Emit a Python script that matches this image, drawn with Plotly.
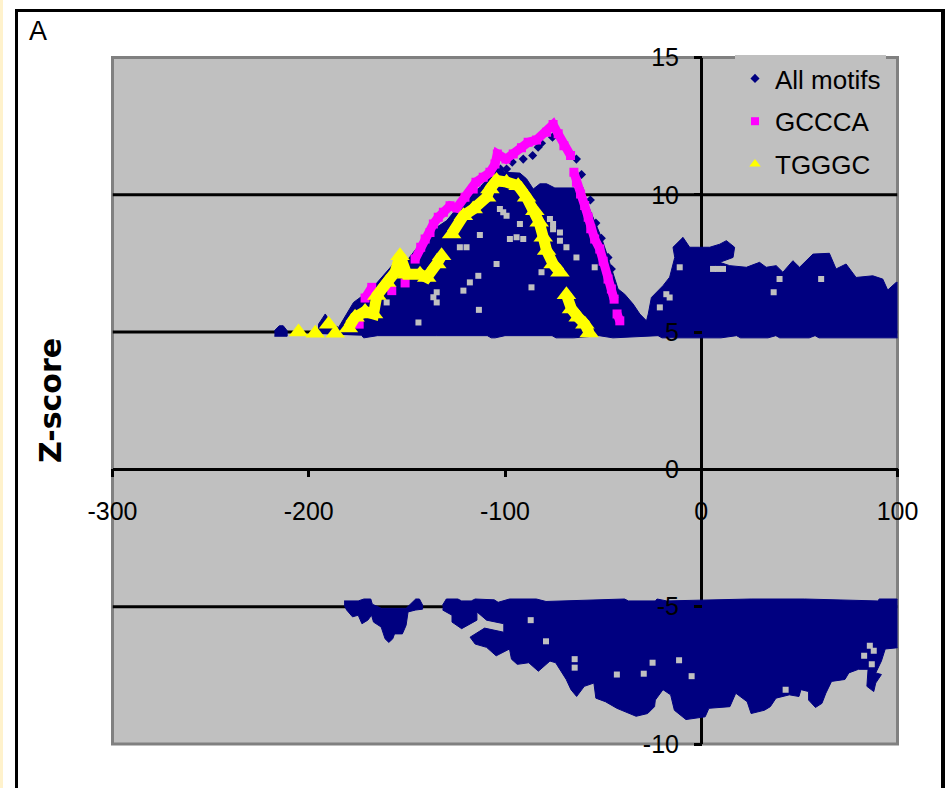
import plotly.graph_objects as go

# All motifs, upper lobe: outline (x position, Z-score)
upper_x = [-195,-195,-191.6,-188.2,-184.8,-180.6,-177.2,-173.8,-168.7,-163.6,-156.9,-150,-143.3,-139.9,-129.7,-121.2,-112.8,-106,-102.6,-100,-92.4,-89,-85.6,-82.2,-78.8,-74.6,-65,-59.4,-56.8,-54.3,-50.9,-47.5,-45,-42.4,-39,-34.7,-31.3,-27.9,-27,-25.4,-19.5,-16.1,-13.5,-14.4,-9.3,-5.9,-0.9,4.3,9.4,12.8,17,16.2,9.4,14.5,23,29.7,33.1,38.2,41.6,46.7,50.1,56.9,65.3,68.7,73.8,78.9,87.4,92.5,95,99.3,101.5,
           101.5,60,58,55,40,38,34,20,18,10,-20,-22,-45,-52,-65,-74,-76,-100,-105,-107,-109,-135,-165,-172,-173]
upper_y = [4.93,5.29,5.66,5.29,5.17,5.66,6.08,6.26,6.51,6.93,7.48,7.6,8.21,8.57,9.06,9.79,10.27,10.82,11.0,10.82,10.79,10.58,10.21,10.4,10.4,10.25,10.25,9.91,9.48,9.0,8.45,7.72,7.11,6.57,6.38,6.02,5.66,5.41,5.66,6.26,6.69,7.0,7.72,8.09,8.45,8.09,8.09,8.09,8.2,8.33,8.09,7.72,7.54,7.42,7.36,7.54,7.36,7.42,7.18,7.6,7.36,7.84,7.87,7.3,7.48,6.99,7.05,6.93,6.53,6.81,6.81,
           4.79,4.79,4.87,4.79,4.79,4.87,4.79,4.79,4.87,4.79,4.79,4.87,4.79,4.87,4.79,4.79,4.87,4.87,4.79,4.79,4.87,4.87,4.87,4.79,4.87]
spot_x = [-217.5,-215,-213,-211,-211,-217.5]
spot_y = [5.05,5.23,5.23,5.05,4.85,4.85]

# All motifs, lower lobe
lower_x = [-131.8,-129.9,-124,-122.1,-117.2,-115.2,-105.5,-103.5,-97.7,-84,-79.1,-68.4,-39.1,-37.1,-23.4,-22.5,-17.6,25.4,52.7,89.8,90.8,99.6,102,
           102,93.75,91.8,88.9,91.8,88.9,87.9,84.4,85,80.1,75.2,73.2,66.4,63.5,61.5,58.2,54.7,54.7,50.8,49.8,44.9,38.1,35.2,32.2,25.4,23.4,17.6,14.6,3.9,2,-7.8,-13.7,-15.6,-19.5,-23.4,-23.8,-27.3,-33.2,-43,-48.8,-53.7,-54.7,-59.6,-63.5,-66.4,-68.8,-74.2,-77.1,-83,-87.9,-93.75,-96.7,-97.7,-104.5,-109.4,-115.2,-117.8,-110.4,-100.6,-100.6,-109.4,-114.3,-114.3,-122.1,-127,-127,-131.8]
lower_y = [-4.94,-4.72,-4.72,-4.79,-4.79,-4.72,-4.75,-4.84,-4.72,-4.72,-4.81,-4.79,-4.72,-4.79,-4.79,-4.72,-4.79,-4.72,-4.72,-4.79,-4.72,-4.72,-4.79,
           -6.48,-6.54,-6.98,-7.41,-7.47,-7.78,-8.09,-7.9,-7.28,-7.28,-7.41,-7.65,-7.72,-8.15,-8.52,-8.67,-8.4,-8.09,-8.02,-8.27,-8.21,-8.33,-8.64,-8.77,-8.89,-8.46,-8.15,-8.64,-8.7,-9.01,-9.11,-8.77,-8.21,-8.02,-8.4,-8.64,-8.89,-8.99,-8.7,-8.46,-8.33,-7.78,-7.9,-8.27,-8.02,-7.65,-7.04,-6.98,-7.35,-7.04,-7.1,-6.91,-6.54,-6.79,-6.48,-6.36,-6.11,-5.78,-5.93,-5.62,-5.49,-5.19,-5.49,-5.8,-5.56,-5.31,-5.12]
left_x = [-182,-174.8,-171.9,-168.4,-167.6,-163,-150.4,-145.5,-143.6,-142,-142,-145.5,-149.4,-150.4,-152.3,-156.3,-157.2,-159.2,-161.1,-163.1,-167,-168,-169.9,-172.9,-174.8,-177.7,-180.7,-182]
left_y = [-4.79,-4.79,-4.72,-4.72,-4.91,-5.06,-5.06,-4.72,-4.72,-4.94,-5.09,-5.12,-5.19,-5.68,-5.99,-5.99,-6.17,-6.3,-6.17,-5.74,-5.56,-5.31,-5.49,-5.62,-5.31,-5.37,-5.12,-4.94]

# Separate All motifs points above the main mass
dots_x = [-81.4,-75.8,-83.1,-90.7,-85.9,-96.3,-102.3,-99.2,-63.6,-61,-62.2,-56.5,-53.7,-50.9,-47.5,-45.8]
dots_y = [11.88,12.1,11.73,11.3,11.43,11.19,10.94,10.94,11.3,10.74,10.25,9.81,8.97,8.42,7.72,7.3]

# Empty spots inside the All motifs mass
gaps_x = [-134.8,-136.5,-134.8,-119.6,-123,-100.9,-99.2,-102.6,-75.5,-75.5,-72,-72,-77.1,-94.1,-90.7,-97.5,-112.8,-92.4,-104.3,-81.4,-117.9,-121.2,-113.6,-160.3,-113.3,-144.1,-86.5,-54.3,-63.6,-68.7,8.5,6,11.1,-10.97,-16.1,-21.1,-17.8,39.9,61.1,36.9,
          85.9,87.9,83,86.9,-43,-64.5,-64.5,-24.8,-29.3,-4.9,-86.9,43,-79.1,-11.3]
gaps_y = [6.45,6.27,6.08,8.09,8.09,9.36,9.24,9.48,8.94,8.75,8.63,8.33,9.12,8.45,8.39,8.39,8.54,8.94,7.48,7.18,6.81,6.51,7.05,6.08,5.81,5.35,6.63,7.36,7.72,8.09,7.3,7.3,7.3,7.36,6.26,5.9,6.38,6.93,6.93,6.45,
          -6.42,-6.6,-6.79,-7.1,-7.47,-6.91,-7.22,-7.04,-7.44,-7.53,-5.49,-8.02,-6.26,-6.95]

# None marks a break in the run of points
gccca_x = [-174.3,None,-171.3,-167.9,None,-157.7,None,-150.9,None,-145.8,-142.95,-140.7,-138.2,-136.5,-134,-131.4,-128,-124.6,-120.4,-116.2,-114.8,-111.1,-107.7,-105.1,-103.9,-99.5,-95.8,-91.6,-88.2,-83.9,-78.8,-75.5,-72.9,-70,-66.6,None,-64.9,-63.6,-61.5,-59.4,-57.6,-56.3,-54.3,-51.7,-50,-47.5,-45.8,-44.4,None,-42.9,-41.5]
gccca_y = [5.29,None,6.24,6.63,None,6.51,None,6.79,None,7.66,8.09,8.39,8.63,8.94,9.18,9.36,9.6,9.52,9.91,10.21,10.46,10.64,10.82,11.12,11.49,11.3,11.49,11.71,11.91,12,12.28,12.56,12.22,11.79,11.43,None,10.82,10.46,10.03,9.61,9.18,8.76,8.39,8.03,7.58,6.93,6.57,6.2,None,5.66,5.41]

tgggc_x = [-205.2,None,-196.7,None,-189.9,None,-186.5,None,-179.8,-176.4,-171.3,-167,-165.3,-160.3,-156,-153.5,-150.1,-143.3,-139.9,-134.8,-132.3,None,-127.2,-121.2,-116.2,-109.4,-107.7,-104.3,-99.2,-93.3,-89,-84.8,-82.6,-80.5,-78.8,-75.5,-72,None,-68.7,-66.1,-62.7,-59.3,-57.1]
tgggc_y = [5.0,None,4.96,None,5.29,None,4.96,None,5.15,5.54,5.75,5.66,6.33,6.81,7.18,7.78,7.11,7.11,6.99,7.48,7.78,None,8.57,9.24,9.48,9.91,10.21,10.52,10.46,10.33,9.91,9.42,9.0,8.45,7.97,7.48,7.18,None,6.36,5.84,5.54,5.29,4.97]

x_ticks = [-300, -200, -100, 0, 100]
y_ticks = [-10, -5, 0, 5, 10, 15]
grid_levels = [-5, 5, 10]

NAVY = "#000080"
MAGENTA = "#FF00FF"
YELLOW = "#FFFF00"
PLOT_BG = "#C0C0C0"
W, H = 945, 788
L, R, T, B = 112.5, 897.5, 57.5, 744
X0_PX, Y0_PX = 702, 468

fig = go.Figure()
for xs, ys in [(upper_x, upper_y), (spot_x, spot_y), (lower_x, lower_y), (left_x, left_y)]:
    fig.add_trace(go.Scatter(x=xs, y=ys, mode="lines", fill="toself", fillcolor=NAVY,
                             line=dict(color=NAVY, width=1), showlegend=False,
                             legendgroup="all", hoverinfo="skip"))
fig.add_trace(go.Scatter(x=gaps_x, y=gaps_y, mode="markers", showlegend=False, legendgroup="all",
                         marker=dict(symbol="square", size=6, color=PLOT_BG), hoverinfo="skip"))
fig.add_trace(go.Scatter(x=dots_x, y=dots_y, mode="markers", name="All motifs", legendgroup="all",
                         marker=dict(symbol="diamond", size=7, color=NAVY)))
fig.add_trace(go.Scatter(x=gccca_x, y=gccca_y, mode="lines+markers", showlegend=False, legendgroup="g",
                         line=dict(color=MAGENTA, width=9),
                         marker=dict(symbol="square", size=9, color=MAGENTA), connectgaps=False))
fig.add_trace(go.Scatter(x=[None], y=[None], mode="markers", name="GCCCA", legendgroup="g",
                         marker=dict(symbol="square", size=8, color=MAGENTA)))
fig.add_trace(go.Scatter(x=tgggc_x, y=tgggc_y, mode="lines+markers", showlegend=False, legendgroup="t",
                         line=dict(color=YELLOW, width=11),
                         marker=dict(symbol="triangle-up", size=17, color=YELLOW), connectgaps=False))
fig.add_trace(go.Scatter(x=[None], y=[None], mode="markers", name="TGGGC", legendgroup="t",
                         marker=dict(symbol="triangle-up", size=10, color=YELLOW)))

shapes = [
    dict(type="rect", xref="paper", yref="paper", x0=L/W, x1=R/W, y0=1-B/H, y1=1-T/H,
         line=dict(color="#808080", width=3), layer="below"),
    dict(type="rect", xref="paper", yref="paper", x0=0, x1=3/W, y0=0, y1=1,
         fillcolor="#FFF2CC", line=dict(width=0), layer="below"),
    dict(type="line", xref="paper", yref="paper", x0=16.5/W, x1=16.5/W, y0=0, y1=1-10/H,
         line=dict(color="black", width=3), layer="below"),
    dict(type="line", xref="paper", yref="paper", x0=15/W, x1=945/W, y0=1-10.5/H, y1=1-10.5/H,
         line=dict(color="black", width=3), layer="below"),
    dict(type="line", xref="paper", yref="paper", x0=943/W, x1=943/W, y0=0, y1=1-10/H,
         line=dict(color="black", width=4), layer="below"),
]
for level in grid_levels:
    shapes.append(dict(type="line", xref="x", yref="y", x0=-300, x1=100, y0=level, y1=level,
                       line=dict(color="black", width=3), layer="below"))

tickfont = dict(family="Liberation Sans", size=25, color="black")
fig.update_layout(
    width=W, height=H, margin=dict(l=0, r=0, t=0, b=0),
    paper_bgcolor="white", plot_bgcolor=PLOT_BG,
    font=dict(family="Liberation Sans", color="black"),
    shapes=shapes,
    xaxis=dict(domain=[L/W, R/W], range=[-300, 100], tickvals=x_ticks,
               ticktext=[str(v) for v in x_ticks], ticks="outside",
               ticklen=8, tickwidth=3, tickcolor="black", showgrid=False,
               zeroline=True, zerolinecolor="black", zerolinewidth=3, showline=False,
               tickfont=tickfont, anchor="free", position=1-Y0_PX/H, ticklabelstandoff=13,
               automargin=False),
    yaxis=dict(domain=[1-B/H, 1-T/H], range=[-10, 15], tickvals=y_ticks,
               ticktext=[str(v) for v in y_ticks], ticks="outside",
               ticklen=8, tickwidth=3, tickcolor="black", showgrid=False,
               zeroline=True, zerolinecolor="black", zerolinewidth=3, showline=False,
               tickfont=tickfont, anchor="free", position=X0_PX/W, ticklabelstandoff=10,
               automargin=False),
    legend=dict(x=735/W, y=1-55/H, xanchor="left", yanchor="top", bgcolor=PLOT_BG,
                borderwidth=0, font=dict(family="Liberation Sans", size=26, color="black"),
                tracegroupgap=6, traceorder="grouped", itemclick=False, itemdoubleclick=False),
    annotations=[
        dict(text="A", xref="paper", yref="paper", x=27/W, y=1-31/H, xanchor="left", yanchor="middle",
             showarrow=False, font=dict(family="Liberation Sans", size=27, color="black")),
        dict(text="<b>Z-score</b>", xref="paper", yref="paper", x=50/W, y=1-401/H, textangle=-90,
             xanchor="center", yanchor="middle", showarrow=False,
             font=dict(family="DejaVu Sans", size=30, color="black")),
    ],
)

fig.write_html("out.html", post_script="document.body.style.margin='0';document.documentElement.style.overflow='hidden';",
               config={"displayModeBar": False})
